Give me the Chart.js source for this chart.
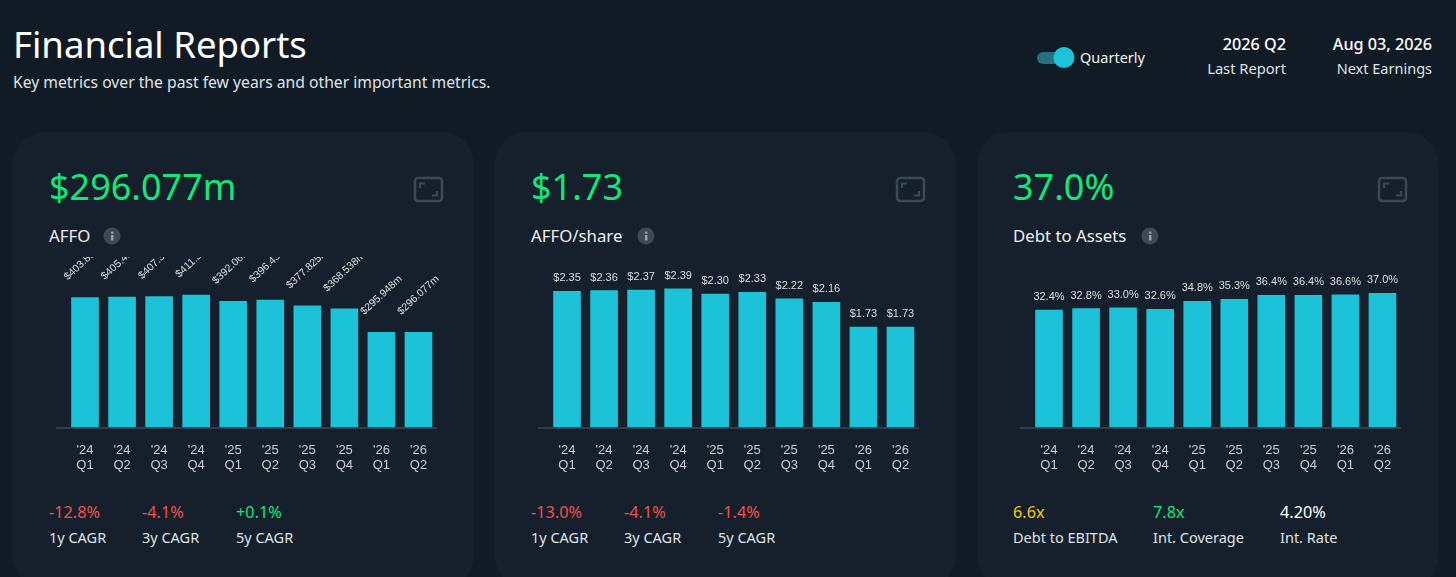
<!DOCTYPE html>
<html>
<head>
<meta charset="utf-8">
<script src="https://cdn.jsdelivr.net/npm/chart.js@4"></script>
<style>
html,body{margin:0;padding:0;width:1456px;height:577px;overflow:hidden;background:#111b26;}
body{position:relative;font-family:"Noto Sans",sans-serif;color:#fff;}
.t{position:absolute;white-space:nowrap;line-height:1;}
.card{position:absolute;top:132px;width:461px;height:456px;border-radius:32px;background:#15202c;}
canvas{position:absolute;}
</style>
</head>
<body>
<script>
const quarters = [["'24","Q1"],["'24","Q2"],["'24","Q3"],["'24","Q4"],["'25","Q1"],["'25","Q2"],["'25","Q3"],["'25","Q4"],["'26","Q1"],["'26","Q2"]];
const affo = [403.857,405.412,407.318,411.305,392.065,396.432,377.825,368.538,295.948,296.077];
const affoShare = [2.35,2.36,2.37,2.39,2.30,2.33,2.22,2.16,1.73,1.73];
const debtToAssets = [32.4,32.8,33.0,32.6,34.8,35.3,36.4,36.4,36.6,37.0];
const headlines = ["$296.077m","$1.73","37.0%"];
const metricNames = ["AFFO","AFFO/share","Debt to Assets"];
const stats = [
  [["-12.8%","1y CAGR","#f0504f"],["-4.1%","3y CAGR","#f0504f"],["+0.1%","5y CAGR","#10e87a"]],
  [["-13.0%","1y CAGR","#f0504f"],["-4.1%","3y CAGR","#f0504f"],["-1.4%","5y CAGR","#f0504f"]],
  [["6.6x","Debt to EBITDA","#f7c814"],["7.8x","Int. Coverage","#10e87a"],["4.20%","Int. Rate","#ffffff"]]
];
const statX = [[49,142,236],[531,624,718],[1013,1153,1280]];
const infoX = [103,637,1141];
const cardX = [13,495,977];
const shift = [0,482,964];

function text(s,x,cy,size,color,opts){
  opts=opts||{};
  const d=document.createElement('div');
  d.className='t';d.textContent=s;
  d.style.fontSize=size+'px';d.style.color=color;
  d.style.top=(cy-size/2)+'px';
  if(opts.right!==undefined){d.style.right=(1456-opts.right)+'px';}else{d.style.left=x+'px';}
  if(opts.weight)d.style.fontWeight=opts.weight;
  document.body.appendChild(d);
  return d;
}
function svg(x,y,w,h,inner){
  const d=document.createElement('div');
  d.style.cssText=`position:absolute;left:${x}px;top:${y}px;width:${w}px;height:${h}px;`;
  d.innerHTML=`<svg width="${w}" height="${h}" viewBox="0 0 ${w} ${h}" xmlns="http://www.w3.org/2000/svg">${inner}</svg>`;
  document.body.appendChild(d);
}

cardX.forEach(x=>{
  const c=document.createElement('div');c.className='card';c.style.left=x+'px';
  document.body.appendChild(c);
});

text("Financial Reports",13,44,36.5,"#ffffff");
text("Key metrics over the past few years and other important metrics.",13,83,15.7,"#dfe3e6");
svg(1035,44,42,28,'<rect x="2" y="8" width="26" height="12" rx="6" fill="#27707f"/><circle cx="29" cy="13.5" r="10.5" fill="#1cc3d9"/>');
text("Quarterly",1080,57.5,14.5,"#f2f4f5");
text("2026 Q2",0,44,16.2,"#ffffff",{right:1286,weight:500});
text("Last Report",0,68.5,14.7,"#dfe3e6",{right:1286});
text("Aug 03, 2026",0,44,16.2,"#ffffff",{right:1432,weight:500});
text("Next Earnings",0,68.5,14.5,"#dfe3e6",{right:1432});

const labelPlugin={
  id:'barLabels',
  afterDatasetsDraw(chart,args,o){
    const ctx=chart.ctx,meta=chart.getDatasetMeta(0),vals=chart.data.datasets[0].data;
    ctx.save();
    ctx.fillStyle='#dcdfe2';
    ctx.font=(o.rotate?'10.5px':'11px')+' "Liberation Sans",sans-serif';
    ctx.textAlign='center';ctx.textBaseline='middle';
    meta.data.forEach((b,i)=>{
      ctx.save();
      if(o.rotate){
        ctx.translate(b.x,b.y-37);ctx.rotate(-43*Math.PI/180);
      }else{
        ctx.translate(b.x,b.y-13);
      }
      ctx.fillText(o.format(vals[i]),0,0);
      ctx.restore();
    });
    const y=chart.chartArea.bottom+0.5;
    ctx.strokeStyle='#3c4753';ctx.lineWidth=1.5;
    ctx.beginPath();ctx.moveTo(chart.chartArea.left-10.5,y);ctx.lineTo(chart.chartArea.right,y);ctx.stroke();
    ctx.restore();
  }
};

function makeChart(idx,values,maxY,format,rotate){
  const s=shift[idx];
  const cv=document.createElement('canvas');
  cv.width=389;cv.height=230;
  cv.style.left=(56+s)+'px';cv.style.top='257px';cv.style.width='389px';cv.style.height='230px';
  document.body.appendChild(cv);
  new Chart(cv,{
    type:'bar',
    data:{labels:quarters,datasets:[{data:values,backgroundColor:'#1bc2d8',borderWidth:0,barThickness:27}]},
    plugins:[labelPlugin],
    options:{
      responsive:false,animation:false,devicePixelRatio:1,
      layout:{padding:{left:10.5,right:8,top:0,bottom:0}},
      plugins:{legend:{display:false},tooltip:{enabled:false},barLabels:{format,rotate}},
      scales:{
        x:{grid:{display:false},border:{display:false},
          afterFit(a){a.height=59.5;},
          ticks:{color:'#c9cdd1',font:{family:'"Liberation Sans",sans-serif',size:13,lineHeight:1.15},padding:7,maxRotation:0,autoSkip:false}},
        y:{display:false,min:0,max:maxY}
      }
    }
  });
}
makeChart(0,affo,530,v=>'$'+v.toFixed(3)+'m',true);
makeChart(1,affoShare,2.94,v=>'$'+v.toFixed(2),false);
makeChart(2,debtToAssets,47,v=>v.toFixed(1)+'%',false);

headlines.forEach((h,i)=>{
  const s=shift[i];
  text(h,49+s,187,36,"#10e87a");
  text(metricNames[i],49+s,236,16.8,"#eef0f2");
  svg(413+s,176,31,27,'<rect x="2" y="2" width="27" height="23" rx="3" fill="none" stroke="#3c4855" stroke-width="2.5"/><path d="M7 12V7.5H12M24 15V19.5H19" fill="none" stroke="#3c4855" stroke-width="2.2"/>');
  svg(infoX[i],227,18,18,'<circle cx="9" cy="9" r="8.5" fill="#3f4853"/><rect x="8" y="8" width="2.4" height="5.5" fill="#9aa1a8"/><rect x="8" y="4.6" width="2.4" height="2.2" fill="#9aa1a8"/>');
  stats[i].forEach((st,j)=>{
    text(st[0],statX[i][j],512,16.3,st[2]);
    text(st[1],statX[i][j],537,14.5,"#dfe3e6");
  });
});
</script>
</body>
</html>
